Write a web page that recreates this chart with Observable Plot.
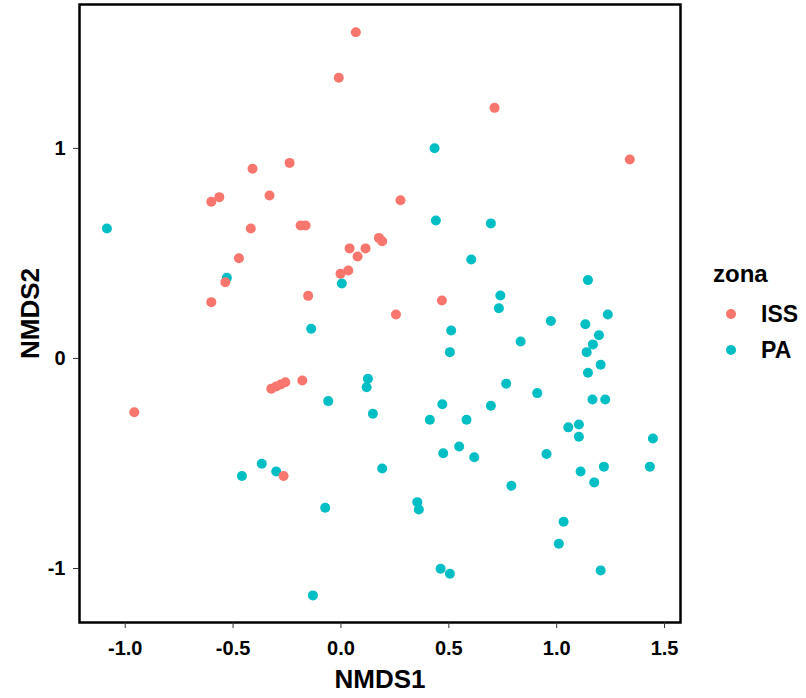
<!DOCTYPE html>
<html>
<head>
<meta charset="utf-8">
<script src="https://cdn.jsdelivr.net/npm/d3@7"></script>
<script src="https://cdn.jsdelivr.net/npm/@observablehq/plot@0.6"></script>
<style>
  html, body { margin: 0; padding: 0; background: #fff; }
  #wrap { display: flex; flex-direction: row; width: 806px; height: 698px; font-family: "Liberation Sans", Arial, sans-serif; }
  #legend { width: 116px; height: 698px; }
</style>
</head>
<body>
<div id="wrap"><div id="chart"></div><div id="legend"></div></div>
<script>
// ---- data ----
const zona = ["ISS", "PA"];
const zonaColors = ["#F8766D", "#00BFC4"];

const issX = [0.069, -0.010, 0.712, 1.339, -0.238, -0.410, -0.601, -0.564, -0.331, -0.418,
  -0.187, -0.164, 0.276, 0.176, 0.191, 0.040, 0.114, 0.077, -0.473, -0.536,
  -0.002, 0.034, -0.152, 0.468, 0.255, -0.601, -0.323, -0.300, -0.279, -0.258,
  -0.179, -0.958, -0.266];
const issY = [1.553, 1.336, 1.193, 0.947, 0.931, 0.903, 0.746, 0.768, 0.776, 0.619,
  0.633, 0.633, 0.753, 0.574, 0.558, 0.524, 0.524, 0.485, 0.477, 0.363,
  0.403, 0.419, 0.298, 0.276, 0.209, 0.268, -0.144, -0.133, -0.124, -0.113,
  -0.105, -0.256, -0.560];

const paX = [-1.085, -0.529, 0.434, 0.440, 0.695, 0.604, 0.004, 0.739, 0.732, 1.145,
  0.973, 1.133, 1.237, -0.367, -0.459, -0.300, -0.138, 0.511, 0.505, 0.125,
  0.119, -0.059, 0.148, 0.470, 0.412, 0.582, 0.695, 0.766, 0.474, 0.548,
  0.618, 0.191, 0.790, 0.354, 0.361, -0.073, 0.462, 0.505, -0.130, 0.833,
  1.196, 1.168, 1.139, 1.204, 1.145, 0.910, 1.166, 1.225, 1.054, 1.103,
  1.103, 1.446, 0.953, 1.111, 1.219, 1.174, 1.432, 1.032, 1.010, 1.204];
const paY = [0.619, 0.384, 1.001, 0.657, 0.643, 0.471, 0.357, 0.300, 0.239, 0.373,
  0.178, 0.163, 0.209, -0.501, -0.560, -0.538, 0.141, 0.133, 0.030, -0.097,
  -0.137, -0.203, -0.263, -0.218, -0.292, -0.292, -0.225, -0.120, -0.451, -0.419,
  -0.470, -0.524, -0.606, -0.684, -0.719, -0.711, -1.001, -1.025, -1.128, 0.081,
  0.111, 0.067, 0.030, -0.030, -0.068, -0.165, -0.195, -0.195, -0.328, -0.314,
  -0.373, -0.381, -0.455, -0.538, -0.515, -0.590, -0.515, -0.777, -0.882, -1.009];

const xTicks = [-1.0, -0.5, 0.0, 0.5, 1.0, 1.5];
const yTicks = [-1, 0, 1];
const xDomain = [-1.212, 1.574];
const yDomain = [-1.257, 1.685];
const xTitle = "NMDS1";
const yTitle = "NMDS2";
const legendTitle = "zona";

// ---- build table ----
const rows = [
  ...paX.map((x, i) => ({x, y: paY[i], zona: "PA"})),
  ...issX.map((x, i) => ({x, y: issY[i], zona: "ISS"}))
];

const font = "Liberation Sans, Arial, sans-serif";

const chart = Plot.plot({
  width: 690,
  height: 698,
  marginLeft: 79,
  marginRight: 10,
  marginTop: 4,
  marginBottom: 76,
  style: {fontFamily: font, background: "#fff", overflow: "visible"},
  x: {domain: xDomain},
  y: {domain: yDomain},
  color: {domain: zona, range: zonaColors},
  marks: [
    Plot.dot(rows, {x: "x", y: "y", fill: "zona", r: 5, stroke: null}),
    Plot.frame({stroke: "#000", strokeWidth: 2.5}),
    Plot.axisX({ticks: xTicks, tickFormat: d => d.toFixed(1), tickSize: 6, tickPadding: 12,
      fontSize: 20, fontWeight: "bold", fill: "#000", stroke: "#333", label: null}),
    Plot.axisY({ticks: yTicks, tickFormat: d => String(d), tickSize: 6, tickPadding: 8,
      fontSize: 20, fontWeight: "bold", fill: "#000", stroke: "#333", label: null}),
    Plot.text([xTitle], {text: d => d, frameAnchor: "bottom", textAnchor: "middle", lineAnchor: "bottom", dy: 65,
      fontSize: 26, fontWeight: "bold", fill: "#000"}),
    Plot.text([yTitle], {text: d => d, frameAnchor: "left", textAnchor: "middle", lineAnchor: "bottom", rotate: -90, dx: -41,
      fontSize: 26, fontWeight: "bold", fill: "#000"})
  ]
});
document.getElementById("chart").appendChild(chart);

// ---- legend ----
const lg = d3.select("#legend").append("svg")
  .attr("width", 116).attr("height", 698)
  .style("font-family", font);
lg.append("text").attr("x", 23).attr("y", 282)
  .attr("font-size", 24).attr("font-weight", "bold").attr("fill", "#000").text(legendTitle);
const items = lg.selectAll("g.item").data(zona).join("g").attr("class", "item")
  .attr("transform", (d, i) => `translate(0, ${314 + i * 36})`);
items.append("circle").attr("cx", 41).attr("cy", 0).attr("r", 5)
  .attr("fill", (d, i) => zonaColors[i]);
items.append("text").attr("x", 71).attr("y", 0).attr("dy", "0.36em")
  .attr("font-size", 23).attr("font-weight", "bold").attr("fill", "#000").text(d => d);
</script>
</body>
</html>
